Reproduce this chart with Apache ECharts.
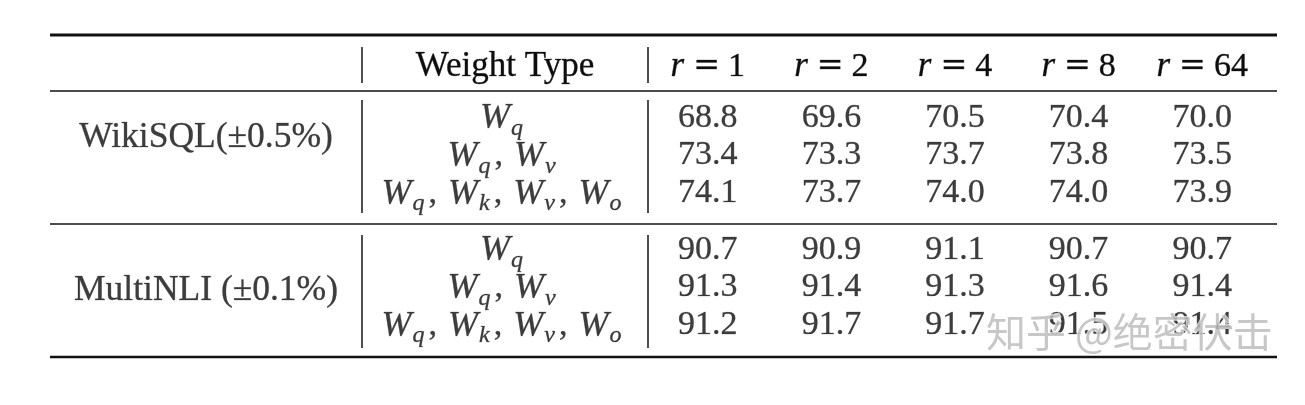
<!DOCTYPE html>
<html>
<head>
<meta charset="utf-8">
<script src="https://cdn.jsdelivr.net/npm/echarts@6/dist/echarts.min.js"></script>
<style>
html,body{margin:0;padding:0;background:#fff;}
#chart{width:1305px;height:405px;}
</style>
</head>
<body>
<div id="chart"></div>
<script>
// ---- data ----
const rValues = [1, 2, 4, 8, 64];
const datasets = ['WikiSQL(\u00b10.5%)', 'MultiNLI (\u00b10.1%)'];
const weightTypes = [['q'], ['q', 'v'], ['q', 'k', 'v', 'o']];
const wikisqlAcc = [
  [68.8, 69.6, 70.5, 70.4, 70.0],
  [73.4, 73.3, 73.7, 73.8, 73.5],
  [74.1, 73.7, 74.0, 74.0, 73.9]
];
const multinliAcc = [
  [90.7, 90.9, 91.1, 90.7, 90.7],
  [91.3, 91.4, 91.3, 91.6, 91.4],
  [91.2, 91.7, 91.7, 91.5, 91.4]
];
const groups = [wikisqlAcc, multinliAcc];
const watermark = '知乎 @绝密伏击';

// ---- styling ----
const FONT = '"Liberation Serif", "Times New Roman", serif';
const INK = '#0d0d0d';
const FS = 34;
const BORDER = { textBorderColor: 'rgba(20,20,20,0.55)', textBorderWidth: 0.6 };
const richMath = {
  w: Object.assign({ fontFamily: FONT, fontStyle: 'italic', fontSize: 36, color: INK, lineHeight: 44 }, BORDER),
  s: Object.assign({ fontFamily: FONT, fontStyle: 'italic', fontSize: 24, color: INK, lineHeight: 24, verticalAlign: 'top', padding: [20, 3, 0, 1] }, BORDER),
  c: Object.assign({ fontFamily: FONT, fontSize: FS, color: INK, lineHeight: 44, padding: [0, 11, 0, 1] }, BORDER),
  n: Object.assign({ fontFamily: FONT, fontSize: FS + 1, color: INK, lineHeight: 36 }, BORDER),
  d: Object.assign({ fontFamily: FONT, fontSize: FS, color: INK, lineHeight: 36 }, BORDER),
  e: Object.assign({ fontFamily: '"DejaVu Serif", serif', fontSize: 32, color: INK, lineHeight: 36, padding: [0, 8, 0, 9] }, BORDER),
  i: Object.assign({ fontFamily: FONT, fontStyle: 'italic', fontSize: FS + 1, color: INK, lineHeight: 36 }, BORDER)
};
function weightLabel(list) {
  return list.map(s => '{w|W}{s|' + s + '}').join('{c|,}');
}
function rLabel(v) {
  return '{i|r}{e|=}{d|' + v + '}';
}

const groupTops = [99, 231];
const rowH = 113;
const colGrids = [
  { left: 50, right: 1305 - 362 },
  { left: 362, right: 1305 - 648 },
  { left: 646, right: 1305 - 1264 }
];

const grid = [], xAxis = [], yAxis = [], series = [];
groups.forEach((acc, g) => {
  colGrids.forEach((c, k) => {
    const idx = g * 3 + k;
    grid.push({ left: c.left, right: c.right, top: groupTops[g], height: rowH });
    let xData = [''];
    let fmt = () => '';
    if (k === 1) { xData = ['Weight Type']; fmt = v => '{n|' + v + '}'; }
    if (k === 2) { xData = rValues.map(String); fmt = v => rLabel(v); }
    xAxis.push({
      gridIndex: idx, type: 'category', data: xData, position: 'top',
      axisLine: { show: false }, axisTick: { show: false }, splitLine: { show: false },
      axisLabel: { show: g === 0, interval: 0, margin: 14, formatter: fmt, rich: richMath }
    });
    yAxis.push({
      gridIndex: idx, type: 'category', data: [0, 1, 2], inverse: true, show: false
    });
  });
  // dataset name
  series.push({
    type: 'scatter', xAxisIndex: g * 3, yAxisIndex: g * 3, symbolSize: 1,
    itemStyle: { color: 'rgba(0,0,0,0)' }, silent: true,
    data: [[0, 1]],
    label: Object.assign({ show: true, position: 'inside', offset: [0, g === 0 ? -18 : 3],
      formatter: () => datasets[g], fontFamily: FONT, fontSize: 35.5, color: INK }, BORDER)
  });
  // weight types
  series.push({
    type: 'scatter', xAxisIndex: g * 3 + 1, yAxisIndex: g * 3 + 1, symbolSize: 1,
    itemStyle: { color: 'rgba(0,0,0,0)' }, silent: true,
    data: weightTypes.map((w, i) => [0, i]),
    label: { show: true, position: 'inside', offset: [-2, 1], formatter: p => weightLabel(weightTypes[p.data[1]]), rich: richMath }
  });
  // values
  const pts = [];
  acc.forEach((row, i) => row.forEach((v, j) => pts.push([j, i, v])));
  series.push({
    type: 'scatter', xAxisIndex: g * 3 + 2, yAxisIndex: g * 3 + 2, symbolSize: 1,
    itemStyle: { color: 'rgba(0,0,0,0)' }, silent: true,
    data: pts,
    label: Object.assign({ show: true, position: 'inside', formatter: p => p.data[2].toFixed(1),
      fontFamily: FONT, fontSize: FS, color: INK }, BORDER)
  });
});

function hline(y, w) {
  return { type: 'line', shape: { x1: 50, y1: y, x2: 1277, y2: y }, style: { stroke: '#111', lineWidth: w }, silent: true };
}
function vline(x, y1, y2) {
  return { type: 'line', shape: { x1: x, y1: y1, x2: x, y2: y2 }, style: { stroke: '#222', lineWidth: 1.6 }, silent: true };
}
const graphic = [
  hline(35, 3), hline(91, 1.6), hline(224, 1.6), hline(357, 2.6),
  vline(362, 47, 83), vline(648, 47, 83),
  vline(362, 100, 213), vline(648, 100, 213),
  vline(362, 235, 348), vline(648, 235, 348),
  { type: 'text', left: 985, top: 311, z: 100, silent: true,
    style: { text: watermark, fontFamily: '"Noto Sans CJK SC", sans-serif', fontSize: 40,
      fill: 'rgba(185,185,185,0.8)', stroke: 'rgba(255,255,255,0.7)', lineWidth: 2 } }
];

const chart = echarts.init(document.getElementById('chart'), null, { renderer: 'canvas' });
chart.setOption({
  animation: false,
  backgroundColor: '#fff',
  grid, xAxis, yAxis, series, graphic
});
</script>
</body>
</html>
